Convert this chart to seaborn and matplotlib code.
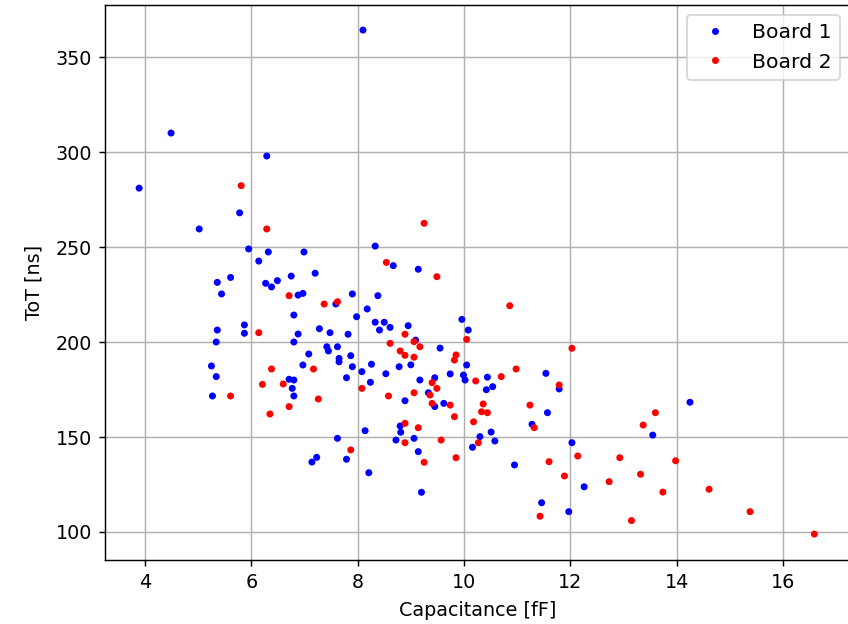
import matplotlib
matplotlib.use('Agg')
import matplotlib.pyplot as plt
import pandas as pd
import seaborn as sns

# Values
board1_cap = [8.10, 4.49, 6.29, 3.89, 5.78, 5.02, 5.95, 6.32, 6.14, 6.99,
              5.36, 5.61, 5.44, 6.27, 6.38, 6.49, 6.75, 6.88, 6.97, 6.80,
              5.36, 5.87, 5.87, 6.88, 5.34, 6.80, 5.25, 5.34, 5.27, 6.71,
              6.80, 6.77, 6.80, 6.97, 7.20, 9.14, 7.59, 7.90, 8.38, 8.18,
              7.98, 8.33, 8.50, 8.41, 8.61, 8.95, 7.28, 7.48, 7.82, 9.09,
              9.55, 7.42, 7.45, 7.62, 7.08, 7.65, 7.65, 7.87, 7.90, 8.26,
              8.08, 8.53, 8.78, 9.00, 9.96, 10.08, 10.05, 9.74, 9.99, 10.02,
              10.44, 10.42, 10.54, 7.79, 8.24, 9.17, 9.45, 9.33, 8.89, 9.45,
              9.62, 10.30, 10.16, 10.51, 8.14, 7.62, 7.79, 7.23, 7.14, 8.21,
              8.80, 8.81, 8.72, 9.06, 9.14, 9.20, 11.57, 11.28, 10.58, 10.95,
              12.03, 12.26, 11.46, 11.97, 13.55, 14.25, 11.54, 11.79, 8.33, 8.67]
board1_tot = [364.2, 310.0, 297.9, 281.0, 268.0, 259.5, 249.0, 247.4, 242.6, 247.4,
              231.4, 234.0, 225.3, 230.9, 229.0, 232.3, 234.7, 224.7, 225.6, 214.2,
              206.3, 209.0, 204.6, 204.2, 200.0, 200.0, 187.4, 181.8, 171.6, 180.4,
              180.0, 175.6, 171.6, 187.9, 236.2, 238.3, 220.0, 225.3, 224.4, 217.4,
              213.3, 210.4, 210.4, 206.3, 207.7, 208.6, 207.0, 204.9, 204.1, 201.0,
              196.8, 197.5, 195.3, 197.5, 193.7, 191.4, 189.6, 192.8, 187.0, 188.3,
              184.4, 183.3, 187.0, 188.0, 211.9, 206.3, 187.9, 183.2, 182.6, 180.0,
              181.5, 174.9, 176.5, 181.2, 178.8, 180.0, 181.2, 173.3, 169.1, 166.0,
              167.7, 150.2, 144.6, 152.6, 153.3, 149.3, 138.3, 139.3, 136.8, 131.2,
              155.8, 152.5, 148.4, 149.3, 142.3, 120.9, 162.8, 156.7, 147.9, 135.3,
              147.0, 123.8, 115.4, 110.7, 151.0, 168.3, 183.5, 175.3, 250.5, 240.2]

board2_cap = [5.81, 6.29, 6.71, 6.14, 6.38, 6.21, 6.60, 5.61, 6.71, 6.35,
              7.37, 7.62, 8.89, 8.61, 9.06, 9.17, 8.80, 8.89, 9.06, 9.85,
              9.82, 10.05, 10.22, 7.17, 8.08, 9.40, 9.49, 9.06, 9.36, 7.26,
              8.58, 9.40, 9.74, 9.82, 8.89, 10.18, 10.36, 10.33, 10.44, 10.27,
              7.87, 9.14, 8.89, 9.25, 9.57, 9.85, 11.24, 11.32, 11.60, 11.89,
              12.14, 11.43, 13.60, 13.37, 12.93, 12.73, 13.32, 13.74, 13.15, 13.98,
              14.61, 15.38, 16.59, 10.86, 12.03, 10.98, 10.70, 11.79, 9.25, 8.54,
              9.49]
board2_tot = [282.3, 259.5, 224.4, 204.9, 185.8, 177.7, 177.9, 171.6, 166.0, 162.1,
              220.0, 221.2, 204.1, 199.3, 200.2, 197.5, 195.3, 193.0, 192.0, 193.2,
              190.5, 201.4, 179.5, 185.8, 175.6, 178.6, 175.6, 173.3, 172.1, 170.0,
              171.6, 167.7, 166.8, 160.7, 157.2, 158.0, 167.4, 163.3, 162.8, 147.0,
              143.2, 154.9, 147.0, 136.7, 148.4, 139.1, 166.8, 154.9, 137.0, 129.5,
              140.0, 108.3, 162.8, 156.3, 139.1, 126.5, 130.4, 121.0, 106.0, 137.5,
              122.5, 110.7, 98.9, 219.1, 196.7, 185.8, 181.8, 177.4, 262.5, 241.9,
              234.4]

df = pd.concat([
    pd.DataFrame({'cap': board1_cap, 'tot': board1_tot, 'board': 'Board 1'}),
    pd.DataFrame({'cap': board2_cap, 'tot': board2_tot, 'board': 'Board 2'}),
])

plt.rcParams['font.size'] = 10.6

fig = plt.figure(figsize=(848 / 130, 624 / 130), dpi=130)
ax = fig.add_axes([105 / 848, 64 / 624, 745 / 848, 555 / 624])

sns.scatterplot(data=df, x='cap', y='tot', hue='board',
                palette={'Board 1': 'blue', 'Board 2': 'red'},
                s=15, linewidth=0, ax=ax)

ax.set_xlim(3.248, 17.26)
ax.set_ylim(85.26, 377.4)
ax.set_xticks([4, 6, 8, 10, 12, 14, 16])
ax.set_yticks([100, 150, 200, 250, 300, 350])
ax.grid(True)
ax.set_axisbelow(True)
ax.set_xlabel('Capacitance [fF]', labelpad=5)
ax.set_ylabel('ToT [ns]', labelpad=7)
ax.legend(loc='upper right', title=None, fontsize=11.3)

fig.savefig('out.png', dpi=130)
